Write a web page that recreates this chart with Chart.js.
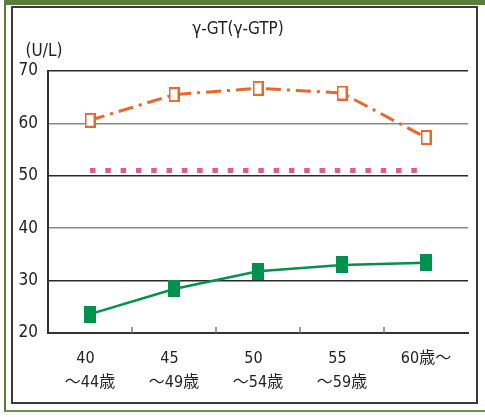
<!DOCTYPE html>
<html>
<head>
<meta charset="utf-8">
<script src="https://cdn.jsdelivr.net/npm/chart.js@4/dist/chart.umd.min.js"></script>
<style>
html, body { margin: 0; padding: 0; background: #fff; }
#wrap { position: relative; width: 485px; height: 417px; overflow: hidden; }
#outer { position: absolute; left: 4px; top: 0; width: 500px; height: 405px;
  border-top: 5px solid #5b7d3c; border-left: 2px solid #5b7d3c; border-bottom: 2px solid #6f9150; }
#inner { position: absolute; left: 11px; top: 6px; width: 463px; height: 394px; border: 2px solid #3a3a3a; }
#box { position: absolute; left: 0; top: 0; width: 485px; height: 417px; }
</style>
</head>
<body>
<div id="wrap">
  <div id="outer"></div>
  <div id="inner"></div>
  <div id="box"><canvas id="myChart"></canvas></div>
</div>
<script>
// age groups
const labels = [['40  ', '～44歳'], ['45  ', '～49歳'], ['50  ', '～54歳'], ['55  ', '～59歳'], '60歳～'];
// orange dash-dot series (hollow squares)
const upperValues = [60.6, 65.5, 66.7, 65.8, 57.3];
// pink dotted reference line
const refValues = [51, 51, 51, 51, 51];
// green solid series (filled squares)
const lowerValues = [23.6, 28.4, 31.8, 33.0, 33.4];
const yTicks = [20, 30, 40, 50, 60, 70];

const FONT = "'Liberation Sans Narrow', 'DejaVu Sans Condensed', 'Noto Sans CJK JP', sans-serif";

function boxMark(w, h, fill, stroke) {
    const c = document.createElement('canvas');
    c.width = w;
    c.height = h;
    const g = c.getContext('2d');
    g.fillStyle = fill;
    g.fillRect(0, 0, w, h);
    if (stroke) {
        g.strokeStyle = stroke;
        g.lineWidth = 2;
        g.strokeRect(1, 1, w - 2, h - 2);
    }
    return c;
}

const orangeMark = boxMark(11, 15, '#fff', '#e5682d');
const greenMark = boxMark(12, 17, '#00914c', null);

// short tick marks pointing up from the bottom axis, between categories
const innerTicks = {
    id: 'innerTicks',
    beforeDatasetsDraw(chart) {
        const ctx = chart.ctx;
        const x = chart.scales.x;
        const bottom = chart.chartArea.bottom;
        ctx.save();
        ctx.strokeStyle = '#777';
        ctx.lineWidth = 1.5;
        for (let i = 0; i < labels.length - 1; i++) {
            const px = (x.getPixelForValue(i) + x.getPixelForValue(i + 1)) / 2;
            ctx.beginPath();
            ctx.moveTo(px, bottom);
            ctx.lineTo(px, bottom - 6);
            ctx.stroke();
        }
        ctx.restore();
    }
};

const texts = {
    id: 'texts',
    afterDraw(chart) {
        const ctx = chart.ctx;
        ctx.save();
        ctx.fillStyle = '#222';
        ctx.textAlign = 'center';
        ctx.textBaseline = 'alphabetic';
        ctx.font = '17px ' + FONT;
        ctx.fillText('γ-GT(γ-GTP)', 238, 34);
        ctx.fillText('(U/L)', 44, 56);
        ctx.restore();
    }
};

const data = {
    labels: labels,
    datasets: [{
        label: 'upper',
        data: upperValues,
        borderColor: '#e5682d',
        borderWidth: 3,
        borderDash: [15, 6, 3, 6],
        pointStyle: orangeMark,
        tension: 0
    }, {
        label: 'reference',
        data: refValues,
        borderColor: '#e35a8c',
        borderWidth: 5,
        borderDash: [5.5, 9.8],
        borderCapStyle: 'butt',
        pointRadius: 0,
        tension: 0
    }, {
        label: 'lower',
        data: lowerValues,
        borderColor: '#00914c',
        borderWidth: 2.5,
        pointStyle: greenMark,
        tension: 0
    }]
};

const config = {
    type: 'line',
    data: data,
    options: {
        responsive: true,
        maintainAspectRatio: false,
        animation: false,
        layout: { padding: { left: 0, top: 71, right: 17, bottom: 0 } },
        plugins: {
            legend: { display: false },
            tooltip: { enabled: false }
        },
        scales: {
            x: {
                offset: true,
                afterFit: (scale) => { scale.height = 84; },
                grid: {
                    offset: true,
                    drawTicks: false,
                    lineWidth: 2,
                    color: (c) => c.index === labels.length ? '#333' : 'rgba(0,0,0,0)'
                },
                border: { display: true, color: '#333', width: 2 },
                ticks: {
                    padding: 13,
                    color: '#222',
                    maxRotation: 0,
                    autoSkip: false,
                    font: { family: FONT, size: 16, lineHeight: 1.55 }
                }
            },
            y: {
                min: yTicks[0],
                max: yTicks[yTicks.length - 1],
                afterFit: (scale) => { scale.width = 48; },
                afterBuildTicks: (scale) => { scale.ticks = yTicks.map(v => ({ value: v })); },
                grid: {
                    drawTicks: false,
                    lineWidth: 1.5,
                    color: (c) => (c.tick && (c.tick.value === 60 || c.tick.value === 40)) ? '#888' : '#2a2a2a'
                },
                border: { display: true, color: '#333', width: 2 },
                ticks: {
                    padding: 10,
                    color: '#222',
                    font: { family: FONT, size: 17 }
                }
            }
        }
    },
    plugins: [innerTicks, texts]
};

const myChart = new Chart(document.getElementById('myChart'), config);
</script>
</body>
</html>
